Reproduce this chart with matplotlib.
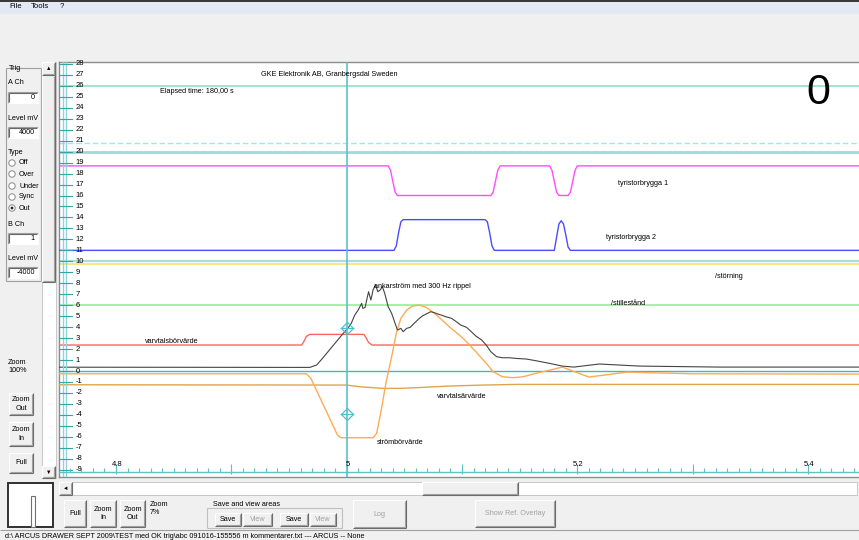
import matplotlib
matplotlib.use("Agg")
import matplotlib.pyplot as plt
from matplotlib.patches import Rectangle, Circle

plt.rcParams['font.family'] = ['Liberation Sans', 'DejaVu Sans']
FS = 5.2

# ---- traces (time s, level) ----
# ankarström med 300 Hz rippel
t_ankar = [4.7506, 4.968, 4.974, 4.979, 4.985, 4.991, 4.997, 5.001, 5.004, 5.007, 5.010,
           5.013, 5.014, 5.016, 5.018, 5.019, 5.021, 5.023, 5.025, 5.027, 5.029, 5.031,
           5.033, 5.036, 5.039, 5.042, 5.044, 5.047, 5.049, 5.052, 5.055, 5.057, 5.060,
           5.063, 5.066, 5.069, 5.073, 5.076, 5.079, 5.082, 5.086, 5.091, 5.095, 5.099,
           5.104, 5.108, 5.112, 5.117, 5.121, 5.125, 5.130, 5.135, 5.141, 5.147, 5.156,
           5.164, 5.173, 5.187, 5.197, 5.219, 5.254, 5.323, 5.4442]
v_ankar = [0.35, 0.33, 0.55, 1.15, 1.91, 2.67, 3.43, 3.89, 4.35, 5.10, 5.56,
           6.17, 5.71, 5.80, 6.77, 7.23, 6.47, 7.44, 7.84, 7.23, 7.38, 7.69,
           7.08, 5.86, 5.26, 4.35, 3.74, 3.89, 3.59, 3.89, 3.98, 4.19, 4.50,
           4.80, 5.04, 5.20, 5.41, 5.32, 5.20, 5.10, 4.95, 4.80, 4.50, 4.19,
           3.98, 3.59, 3.19, 2.83, 2.37, 1.76, 1.31, 1.21, 1.21, 1.15, 1.09,
           0.94, 0.76, 0.45, 0.36, 0.64, 0.45, 0.36, 0.36]

# strömbörvärde
t_strom = [4.7506, 4.965, 4.969, 4.992, 4.995, 5.023, 5.026, 5.030, 5.034, 5.039, 5.043,
           5.047, 5.052, 5.057, 5.063, 5.069, 5.078, 5.089, 5.101, 5.112, 5.121, 5.127,
           5.135, 5.144, 5.153, 5.164, 5.174, 5.187, 5.210, 5.243, 5.300, 5.4442]
v_strom = [-0.25, -0.25, -0.67, -5.83, -6.08, -6.08, -5.68, -3.56, -1.12, 1.31, 3.43,
           4.80, 5.56, 5.92, 6.01, 5.80, 5.10, 4.04, 2.98, 1.76, 0.70, -0.06,
           -0.52, -0.61, -0.52, -0.21, 0.03, 0.36, -0.55, -0.10, -0.25, -0.28]

# varvtalsärvärde
t_varv_ar = [4.7506, 5.000, 5.011, 5.031, 5.046, 5.066, 5.089, 5.118, 5.147, 5.4442]
v_varv_ar = [-1.25, -1.28, -1.43, -1.58, -1.58, -1.49, -1.37, -1.28, -1.22, -1.22]

# varvtalsbörvärde
t_varv_bor = [4.7506, 4.961, 4.963, 4.965, 4.968, 5.015, 5.017, 5.019, 5.022, 5.4442]
v_varv_bor = [2.37, 2.37, 2.70, 3.15, 3.34, 3.34, 3.00, 2.60, 2.37, 2.37]

# tyristorbrygga 1
t_tyr1 = [4.7506, 5.036, 5.038, 5.040, 5.042, 5.044, 5.125, 5.127, 5.129, 5.131, 5.133,
          5.176, 5.178, 5.180, 5.182, 5.184, 5.192, 5.194, 5.196, 5.198, 5.200, 5.4442]
v_tyr1 = [18.7, 18.7, 18.3, 17.3, 16.3, 16.0, 16.0, 16.3, 17.3, 18.3, 18.7,
          18.7, 18.3, 17.3, 16.3, 16.0, 16.0, 16.3, 17.3, 18.3, 18.7, 18.7]

# tyristorbrygga 2
t_tyr2 = [4.7506, 5.041, 5.043, 5.045, 5.047, 5.049, 5.120, 5.122, 5.124, 5.126, 5.128,
          5.180, 5.182, 5.184, 5.186, 5.188, 5.190, 5.192, 5.194, 5.4442]
v_tyr2 = [11.0, 11.0, 11.4, 12.6, 13.6, 13.8, 13.8, 13.6, 12.6, 11.4, 11.0,
          11.0, 12.2, 13.4, 13.7, 13.4, 12.4, 11.3, 11.0, 11.0]

# constant channels / reference levels
level_values = [26.0, 20.8, 20.0, 10.0, 9.75, 6.05, 0.0]
level_colors = ['#a2e6cb', '#a8e2ea', '#a3d6da', '#a8dce0', '#ffe066', '#96ee96', '#48b4bc']
level_widths = [1.4, 1.0, 2.0, 1.6, 1.2, 1.2, 1.0]
level_styles = ['-', (0, (4, 2)), '-', '-', '-', '-', '-']

cursor_t = 5.0
cursor_marks = [3.9, -3.9]

y_ticks = list(range(-9, 29))
x_labels = [4.8, 5.0, 5.2, 5.4]
x_label_text = ['4.8', '5', '5.2', '5.4']

labels = ['tyristorbrygga 1', 'tyristorbrygga 2', '/störning', '/stillestånd',
          'ankarström med 300 Hz rippel', 'varvtalsbörvärde', 'varvtalsärvärde', 'strömbörvärde']
label_t = [5.235, 5.225, 5.319, 5.229, 5.024, 4.825, 5.078, 5.026]
label_v = [17.1, 12.2, 8.66, 6.2, 7.66, 2.73, -2.3, -6.5]

W, H = 859, 540
GUI = '#f0f0f0'
fig = plt.figure(figsize=(W / 100, H / 100), dpi=100, facecolor=GUI)

# window chrome drawn in pixel units
bg = fig.add_axes([0, 0, 1, 1])
bg.set_xlim(0, W)
bg.set_ylim(H, 0)
bg.axis('off')


def edge(x0, y0, x1, y1, c, lw=0.8):
    bg.plot([x0, x1], [y0, y1], color=c, lw=lw, solid_capstyle='butt')


def raised(x0, y0, x1, y1):
    bg.add_patch(Rectangle((x0, y0), x1 - x0, y1 - y0, fc=GUI, ec='none'))
    edge(x0, y0, x1, y0, 'white')
    edge(x0, y0, x0, y1, 'white')
    edge(x0, y1, x1, y1, '#696969')
    edge(x1, y0, x1, y1, '#696969')
    edge(x0 + 1, y1 - 1, x1 - 1, y1 - 1, '#a0a0a0')
    edge(x1 - 1, y0 + 1, x1 - 1, y1 - 1, '#a0a0a0')


def sunken(x0, y0, x1, y1, fc='white'):
    bg.add_patch(Rectangle((x0, y0), x1 - x0, y1 - y0, fc=fc, ec='none'))
    edge(x0, y0, x1, y0, '#a0a0a0')
    edge(x0, y0, x0, y1, '#a0a0a0')
    edge(x0 + 1, y0 + 1, x1 - 1, y0 + 1, '#696969')
    edge(x0 + 1, y0 + 1, x0 + 1, y1 - 1, '#696969')
    edge(x0, y1, x1, y1, 'white')
    edge(x1, y0, x1, y1, 'white')


def txt(x, y, s, ha='left', color='black', size=FS):
    bg.text(x, y, s, ha=ha, va='center', fontsize=size, color=color)


def button(x0, y0, x1, y1, lines, enabled=True):
    raised(x0, y0, x1, y1)
    c = 'black' if enabled else '#a0a0a0'
    cx = (x0 + x1) / 2
    if len(lines) == 1:
        txt(cx, (y0 + y1) / 2, lines[0], ha='center', color=c)
    else:
        cy = (y0 + y1) / 2
        txt(cx, cy - 4.2, lines[0], ha='center', color=c)
        txt(cx, cy + 4.2, lines[1], ha='center', color=c)


# menu strip
bg.add_patch(Rectangle((0, 0), W, 1.5, fc='#3a3a3a', ec='none'))
bg.add_patch(Rectangle((0, 1.5), W, 12, fc='#e4eaf4', ec='none'))
txt(9, 7, 'File', size=5.6)
txt(31, 7, 'Tools', size=5.6)
txt(60, 7, '?', size=5.6)

# trigger group box
edge(6, 68, 41, 68, '#a0a0a0')
edge(6, 68, 6, 281, '#a0a0a0')
edge(6, 281, 41, 281, '#a0a0a0')
edge(41, 68, 41, 281, '#a0a0a0')
bg.add_patch(Rectangle((8, 63), 16, 10, fc=GUI, ec='none'))
txt(9, 68, 'Trig')
txt(8, 83, 'A Ch')
sunken(8, 92, 38, 103)
txt(35, 97.5, '0', ha='right')
txt(8, 118, 'Level mV')
sunken(8, 127, 38, 138)
txt(35, 132.5, '4000', ha='right')
txt(8, 152, 'Type')
for yy, name in zip([163, 174, 186, 197, 208], ['Off', 'Over', 'Under', 'Sync', 'Out']):
    bg.add_patch(Circle((12, yy), 3.2, fc='white', ec='#8a8a8a', lw=0.7))
    txt(19, yy, name)
bg.add_patch(Circle((12, 208), 1.4, fc='#222222', ec='none'))
txt(8, 225, 'B Ch')
sunken(8, 233, 38, 244)
txt(35, 238.5, '1', ha='right')
txt(8, 258, 'Level mV')
sunken(8, 267, 38, 278)
txt(35, 272.5, '-4000', ha='right')

# vertical scroll bar
bg.add_patch(Rectangle((42, 62), 14, 416, fc='white', ec='#c8c8c8', lw=0.7))
raised(42, 75, 55, 282)
raised(42, 62, 55, 75)
txt(48.5, 68, '▲', ha='center', size=4)
raised(42, 466, 55, 478)
txt(48.5, 472, '▼', ha='center', size=4)

# left zoom controls
txt(8, 363, 'Zoom')
txt(8, 371, '100%')
button(9, 393, 33, 415, ['Zoom', 'Out'])
button(9, 422, 33, 446, ['Zoom', 'In'])
button(9, 453, 33, 473, ['Full'])

# horizontal scroll bar
bg.add_patch(Rectangle((59, 482), 798, 13, fc='white', ec='#c8c8c8', lw=0.7))
raised(59, 482, 72, 495)
txt(65.5, 488.5, '◄', ha='center', size=4)
raised(422, 482, 518, 495)

# overview thumbnail
bg.add_patch(Rectangle((8, 483), 45, 44, fc='white', ec='#303030', lw=1.4))
bg.add_patch(Rectangle((31, 496), 4, 31, fc='white', ec='#707070', lw=0.8))

# bottom controls
button(64, 500, 86, 527, ['Full'])
button(90, 500, 116, 527, ['Zoom', 'In'])
button(120, 500, 145, 527, ['Zoom', 'Out'])
txt(150, 504, 'Zoom')
txt(150, 512, '7%')
edge(207, 508, 342, 508, '#c0c0c0')
edge(207, 508, 207, 528, '#c0c0c0')
edge(207, 528, 342, 528, '#c0c0c0')
edge(342, 508, 342, 528, '#c0c0c0')
bg.add_patch(Rectangle((211, 500), 72, 8, fc=GUI, ec='none'))
txt(213, 504, 'Save and view areas')
button(215, 513, 241, 526, ['Save'])
button(243, 513, 272, 526, ['View'], enabled=False)
button(280, 513, 308, 526, ['Save'])
button(310, 513, 336, 526, ['View'], enabled=False)
button(353, 500, 406, 528, ['Log'], enabled=False)
button(475, 500, 555, 527, ['Show Ref. Overlay'], enabled=False)

# status bar
edge(0, 530, W, 530, '#a0a0a0')
txt(5, 536, r'd:\ ARCUS DRAWER SEPT 2009\TEST med OK trig\abc 091016-155556 m kommentarer.txt --- ARCUS -- None')

# ---- scope area ----
ax = fig.add_axes([59 / W, (H - 477) / H, (W - 59) / W, (477 - 62) / H])
ax.set_xlim(4.7506, 5.4442)
ax.set_ylim(-9.66, 28.17)
ax.set_facecolor('white')
ax.set_xticks([])
ax.set_yticks([])
for side in ['top', 'left', 'bottom']:
    ax.spines[side].set_color('#8c8c8c')
    ax.spines[side].set_linewidth(1.0)
ax.spines['right'].set_visible(False)

for v, c, w, s in zip(level_values, level_colors, level_widths, level_styles):
    ax.axhline(v, color=c, lw=w, ls=s, zorder=2)

ax.plot(t_tyr1, v_tyr1, color='#ff4cff', lw=1.0, zorder=3)
ax.plot(t_tyr2, v_tyr2, color='#4a4cff', lw=1.0, zorder=3)
ax.plot(t_varv_bor, v_varv_bor, color='#ff6464', lw=1.0, zorder=3)
ax.plot(t_varv_ar, v_varv_ar, color='#e0a44c', lw=1.0, zorder=3)
ax.plot(t_strom, v_strom, color='#ffaa55', lw=1.0, zorder=3)
ax.plot(t_ankar, v_ankar, color='#444444', lw=0.8, zorder=4)

# y scale drawn inside the plot
ytr = ax.get_yaxis_transform()
for fx in [0.005, 0.009]:
    ax.plot([fx, fx], [0, 1], transform=ax.transAxes, color='#8fd4da', lw=1.0, zorder=5)
for v in y_ticks:
    ax.plot([0.0012, 0.0165], [v, v], transform=ytr, color='#32a4ac', lw=0.8, zorder=5)
    ax.text(0.0205, v, str(v), transform=ytr, fontsize=5.5, va='center', ha='left', zorder=6)

# time scale along the bottom
ax.axhline(-9.2, color='#5cc2ca', lw=1.0, zorder=5)
minor = [k / 100 for k in range(476, 545)]
major = [k / 10 for k in range(48, 55)]
ax.vlines(minor, -9.2, -8.85, color='#5cc2ca', lw=0.8, zorder=5)
ax.vlines(major, -9.35, -8.45, color='#5cc2ca', lw=0.8, zorder=5)
for xv, s in zip(x_labels, x_label_text):
    ax.text(xv + 0.001, -8.55, s, fontsize=5.5, ha='center', va='center', zorder=6)

# cursor
ax.axvline(cursor_t, color='#5cc2ca', lw=1.2, zorder=5)
ax.plot([cursor_t] * len(cursor_marks), cursor_marks, ls='none', marker='D', ms=6.6,
        mfc='none', mec='#50c0c8', mew=0.9, zorder=6)
ax.plot([cursor_t] * len(cursor_marks), cursor_marks, ls='none', marker='_', ms=9.4,
        mec='#50c0c8', mew=0.9, zorder=6)

# headers and channel names
ax.text(4.926, 27.07, 'GKE Elektronik AB, Granbergsdal Sweden', fontsize=FS, va='center', zorder=6)
ax.text(4.838, 25.5, 'Elapsed time: 180,00 s', fontsize=FS, va='center', zorder=6)
ax.text(5.409, 25.3, '0', fontsize=31, ha='center', va='center', zorder=6)
for s, tx, vy in zip(labels, label_t, label_v):
    ax.text(tx, vy, s, fontsize=FS, va='center', zorder=6)

fig.savefig('out.png', dpi=100, facecolor=GUI)
